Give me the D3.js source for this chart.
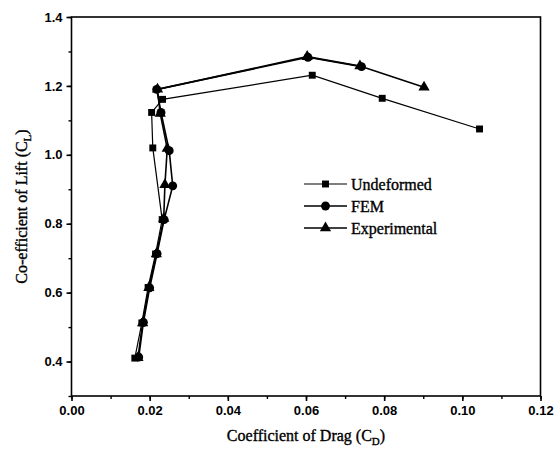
<!DOCTYPE html>
<html>
<head>
<meta charset="utf-8">
<script src="https://cdn.jsdelivr.net/npm/d3@7"></script>
<style>
  html, body { margin: 0; padding: 0; background: #fff; }
  svg { display: block; }
  .serif { font-family: "Liberation Serif", "Times New Roman", serif; stroke: #000; stroke-width: 0.35; }
</style>
</head>
<body>
<svg id="chart" width="556" height="454"></svg>
<script>
// Drag polar data: lift coefficient vs drag coefficient
const undeformedCD = [0.0162, 0.0180, 0.0196, 0.0215, 0.0232, 0.0208, 0.0205, 0.0233, 0.0616, 0.0795, 0.1044];
const undeformedCL = [0.410, 0.512, 0.615, 0.712, 0.812, 1.020, 1.123, 1.161, 1.231, 1.164, 1.075];

const femCD = [0.0172, 0.0184, 0.0200, 0.0219, 0.0237, 0.0259, 0.0250, 0.0229, 0.0218, 0.0605, 0.0742];
const femCL = [0.413, 0.514, 0.614, 0.713, 0.812, 0.910, 1.012, 1.123, 1.190, 1.283, 1.256];

const expCD = [0.0170, 0.0182, 0.0198, 0.0217, 0.0236, 0.0239, 0.0245, 0.0227, 0.0220, 0.0603, 0.0738, 0.0902];
const expCL = [0.411, 0.512, 0.614, 0.712, 0.815, 0.913, 1.018, 1.120, 1.190, 1.285, 1.258, 1.196];

const xTicks = [0.00, 0.02, 0.04, 0.06, 0.08, 0.10, 0.12];
const yTicks = [0.4, 0.6, 0.8, 1.0, 1.2, 1.4];
const legendNames = ["Undeformed", "FEM", "Experimental"];

const svg = d3.select("#chart");
const L = 71.5, R = 540.5, T = 17, B = 396;

const x = d3.scaleLinear().domain([0, 0.12]).range([L, R]);
const y = d3.scaleLinear().domain([0.3, 1.4]).range([B, T]);

// Frame
svg.append("rect")
  .attr("x", L).attr("y", T).attr("width", R - L).attr("height", B - T)
  .attr("fill", "none").attr("stroke", "#000").attr("stroke-width", 1.6);

// X axis: major and minor ticks
const xMinor = d3.range(0, 0.1201, 0.01);
svg.append("g").attr("transform", `translate(0,${B})`)
  .call(d3.axisBottom(x).tickValues(xMinor).tickSize(3).tickFormat(""))
  .call(g => g.select(".domain").remove())
  .selectAll("line").attr("stroke-width", 1.4);
const gx = svg.append("g").attr("transform", `translate(0,${B})`)
  .call(d3.axisBottom(x).tickValues(xTicks).tickSize(5).tickPadding(5).tickFormat(d3.format(".2f")));
gx.select(".domain").remove();
gx.selectAll("line").attr("stroke-width", 1.6);
gx.selectAll("text")
  .attr("font-family", "Liberation Sans, Arial, sans-serif")
  .attr("font-size", 13).attr("font-weight", "bold").attr("fill", "#000");

// Y axis: major and minor ticks
const yMinor = d3.range(0.3, 1.401, 0.1);
svg.append("g").attr("transform", `translate(${L},0)`)
  .call(d3.axisLeft(y).tickValues(yMinor).tickSize(3).tickFormat(""))
  .call(g => g.select(".domain").remove())
  .selectAll("line").attr("stroke-width", 1.4);
const gy = svg.append("g").attr("transform", `translate(${L},0)`)
  .call(d3.axisLeft(y).tickValues(yTicks).tickSize(5).tickPadding(4).tickFormat(d3.format(".1f")));
gy.select(".domain").remove();
gy.selectAll("line").attr("stroke-width", 1.6);
gy.selectAll("text")
  .attr("font-family", "Liberation Sans, Arial, sans-serif")
  .attr("font-size", 13).attr("font-weight", "bold").attr("fill", "#000");

// Axis titles
const xt = svg.append("text").attr("class", "serif")
  .attr("x", (L + R) / 2).attr("y", 441).attr("text-anchor", "middle")
  .attr("font-size", 16).attr("fill", "#000");
xt.append("tspan").text("Coefficient of Drag (C");
xt.append("tspan").attr("font-size", 11).attr("dy", 4).text("D");
xt.append("tspan").attr("dy", -4).text(")");

const yt = svg.append("text").attr("class", "serif")
  .attr("transform", `translate(27,${(T + B) / 2}) rotate(-90)`)
  .attr("text-anchor", "middle")
  .attr("font-size", 16).attr("fill", "#000");
yt.append("tspan").text("Co-efficient of Lift (C");
yt.append("tspan").attr("font-size", 11).attr("dy", 4).text("L");
yt.append("tspan").attr("dy", -4).text(")");

// Series
const series = [
  { cd: undeformedCD, cl: undeformedCL, sym: d3.symbolSquare, size: 48, width: 1.2 },
  { cd: femCD, cl: femCL, sym: d3.symbolCircle, size: 62, width: 1.6 },
  { cd: expCD, cl: expCL, sym: d3.symbolTriangle, size: 55, width: 1.6 }
];

const line = d3.line().x(d => x(d[0])).y(d => y(d[1]));

series.forEach(s => {
  const pts = s.cd.map((c, i) => [c, s.cl[i]]);
  svg.append("path").datum(pts)
    .attr("d", line).attr("fill", "none").attr("stroke", "#000").attr("stroke-width", s.width);
  svg.append("g").selectAll("path").data(pts).join("path")
    .attr("transform", d => `translate(${x(d[0])},${y(d[1])})`)
    .attr("d", d3.symbol().type(s.sym).size(s.size))
    .attr("fill", "#000");
});

// Legend
const legY = [184, 206, 228];
series.forEach((s, i) => {
  const g = svg.append("g").attr("transform", `translate(0,${legY[i]})`);
  g.append("line").attr("x1", 304).attr("x2", 347).attr("y1", 0).attr("y2", 0)
    .attr("stroke", "#000").attr("stroke-width", s.width);
  g.append("path").attr("transform", "translate(325.5,0)")
    .attr("d", d3.symbol().type(s.sym).size(s.size)).attr("fill", "#000");
  g.append("text").attr("class", "serif").attr("x", 351).attr("y", 5.5)
    .attr("font-size", 16).attr("fill", "#000").text(legendNames[i]);
});
</script>
</body>
</html>
